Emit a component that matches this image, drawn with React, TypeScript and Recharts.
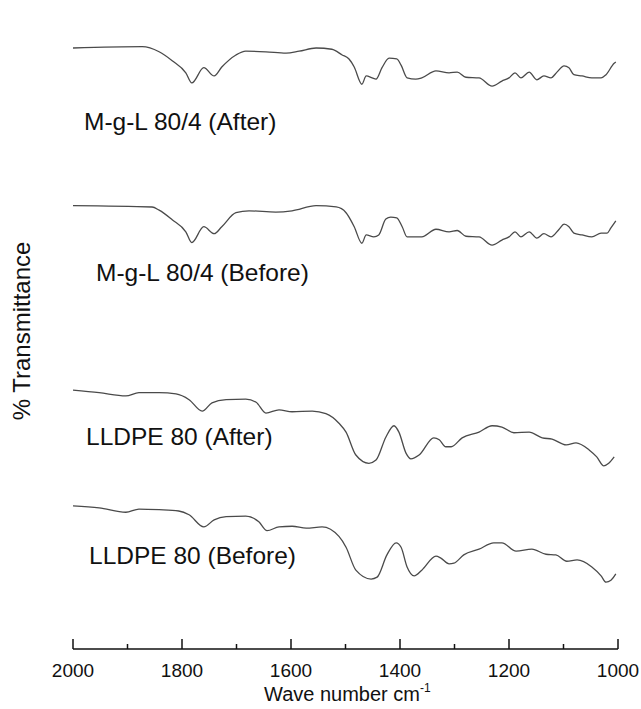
import React from "react";
import { LineChart, Line, XAxis, YAxis } from "recharts";

// FTIR spectra, wavenumber (cm-1) vs. offset % transmittance
const mglAfterWave = [2000, 1873, 1842, 1818, 1793, 1782, 1760, 1741, 1727, 1701, 1683, 1646, 1609, 1585, 1554, 1525, 1506, 1494, 1484, 1470, 1462, 1451, 1444, 1433, 1420, 1406, 1398, 1387, 1371, 1360, 1334, 1310, 1295, 1279, 1255, 1231, 1213, 1200, 1189, 1178, 1163, 1149, 1136, 1123, 1112, 1099, 1090, 1081, 1066, 1048, 1031, 1022, 1007, 1004];
const mglAfterT = [94.5, 94.7, 93.9, 92.5, 90.6, 89.0, 91.4, 90.1, 91.5, 93.4, 94.0, 93.9, 93.7, 94.0, 94.5, 94.3, 93.4, 92.8, 91.5, 88.8, 90.1, 89.8, 89.6, 91.4, 92.9, 92.8, 91.8, 89.8, 89.6, 89.8, 90.9, 90.6, 90.7, 89.9, 89.8, 88.5, 89.3, 89.8, 90.6, 89.8, 90.7, 89.5, 90.1, 89.8, 90.7, 91.7, 91.4, 90.3, 90.1, 89.8, 89.8, 90.3, 92.1, 92.3];

const mglBeforeWave = [2000, 1855, 1842, 1818, 1793, 1782, 1760, 1741, 1727, 1701, 1677, 1628, 1598, 1554, 1517, 1499, 1484, 1470, 1462, 1448, 1439, 1426, 1417, 1406, 1396, 1387, 1371, 1360, 1334, 1310, 1295, 1279, 1255, 1231, 1213, 1200, 1189, 1178, 1163, 1149, 1136, 1123, 1108, 1099, 1090, 1081, 1066, 1048, 1031, 1020, 1013, 1004];
const mglBeforeT = [69.7, 69.5, 69.0, 67.5, 65.6, 63.9, 66.4, 65.3, 66.4, 68.6, 68.9, 68.7, 68.9, 69.7, 69.5, 68.6, 66.4, 63.8, 65.1, 64.8, 65.1, 67.6, 67.9, 67.8, 66.4, 64.8, 64.8, 64.8, 66.0, 65.6, 65.8, 64.9, 64.8, 63.5, 64.3, 64.8, 65.6, 64.8, 65.6, 64.6, 65.3, 64.8, 66.0, 66.8, 66.4, 65.4, 65.1, 64.8, 65.4, 65.4, 66.2, 67.3];

const lldpeAfterWave = [2000, 1952, 1903, 1879, 1842, 1811, 1787, 1763, 1745, 1719, 1683, 1664, 1646, 1622, 1598, 1561, 1536, 1512, 1499, 1481, 1457, 1444, 1426, 1411, 1402, 1389, 1380, 1365, 1338, 1328, 1316, 1306, 1286, 1255, 1231, 1213, 1191, 1163, 1139, 1121, 1095, 1077, 1053, 1039, 1026, 1017, 1007];
const lldpeAfterT = [40.7, 40.3, 39.8, 40.3, 40.3, 40.1, 39.2, 37.4, 38.7, 39.2, 39.3, 38.8, 37.1, 37.6, 37.3, 37.4, 37.0, 35.5, 34.1, 30.5, 29.2, 29.7, 33.3, 35.1, 34.1, 30.8, 29.9, 30.5, 33.2, 32.9, 31.8, 31.8, 33.2, 34.1, 35.1, 34.9, 34.0, 34.1, 33.2, 33.0, 32.1, 32.4, 31.3, 30.2, 28.8, 29.2, 30.2];

const lldpeBeforeWave = [2000, 1952, 1903, 1879, 1842, 1806, 1787, 1760, 1741, 1719, 1683, 1659, 1644, 1622, 1598, 1572, 1543, 1512, 1499, 1481, 1453, 1442, 1424, 1407, 1398, 1387, 1374, 1360, 1334, 1325, 1310, 1301, 1283, 1255, 1228, 1213, 1187, 1158, 1132, 1114, 1094, 1075, 1048, 1031, 1022, 1013, 1004];
const lldpeBeforeT = [22.5, 22.2, 21.5, 22.0, 21.9, 21.7, 21.1, 19.2, 20.3, 20.8, 20.9, 20.0, 18.6, 19.2, 19.3, 19.0, 19.2, 17.7, 16.0, 12.4, 11.0, 11.3, 14.8, 16.7, 16.0, 12.9, 11.5, 12.4, 14.6, 14.3, 13.4, 13.5, 14.8, 15.7, 16.7, 16.7, 15.4, 15.7, 14.9, 14.8, 13.8, 14.0, 12.9, 11.5, 10.5, 10.8, 11.8];

const xTicks = [2000, 1900, 1800, 1700, 1600, 1500, 1400, 1300, 1200, 1100, 1000];

const zip = (w: number[], t: number[]) => w.map((v, i) => ({ w: v, t: t[i] }));

const series = [
  { key: "mglAfter", data: zip(mglAfterWave, mglAfterT) },
  { key: "mglBefore", data: zip(mglBeforeWave, mglBeforeT) },
  { key: "lldpeAfter", data: zip(lldpeAfterWave, lldpeAfterT) },
  { key: "lldpeBefore", data: zip(lldpeBeforeWave, lldpeBeforeT) },
];

const FONT = "'Liberation Sans', Arial, sans-serif";

// ticks point inward; only every 200 cm-1 carries a label
function AxisTick(props: any) {
  const { x, y, payload } = props;
  const major = payload.value % 200 === 0;
  return (
    <g>
      <line x1={x} x2={x} y1={y} y2={y - (major ? 10 : 5)} stroke="#111" strokeWidth={1.5} />
      {major && (
        <text x={x} y={y + 28} textAnchor="middle" fontSize={19} fontFamily={FONT} fill="#111">
          {payload.value}
        </text>
      )}
    </g>
  );
}

export default function App() {
  return (
    <div style={{ position: "absolute", left: 0, top: 0, width: 641, height: 709, background: "#fff" }}>
      <LineChart width={641} height={709} margin={{ top: 13, right: 23, bottom: 0, left: 73 }}>
        <XAxis
          type="number"
          dataKey="w"
          domain={[1000, 2000]}
          reversed
          ticks={xTicks}
          interval={0}
          tickSize={0}
          tickMargin={0}
          tickLine={false}
          tick={<AxisTick />}
          height={60}
          axisLine={{ stroke: "#111", strokeWidth: 1.5 }}
          allowDataOverflow
        />
        <YAxis
          type="number"
          domain={[0, 100]}
          width={0}
          tick={false}
          tickLine={false}
          axisLine={{ stroke: "#666", strokeWidth: 1 }}
        />
        {series.map((s) => (
          <Line
            key={s.key}
            data={s.data}
            dataKey="t"
            type="monotone"
            stroke="#4a4a4a"
            strokeWidth={1.3}
            dot={false}
            isAnimationActive={false}
          />
        ))}
      </LineChart>
      <svg
        width={641}
        height={709}
        style={{ position: "absolute", left: 0, top: 0, pointerEvents: "none" }}
        fontFamily={FONT}
        fill="#111"
      >
        <text x={84} y={130} fontSize={24.5}>M-g-L 80/4 (After)</text>
        <text x={96} y={281} fontSize={24.5}>M-g-L 80/4 (Before)</text>
        <text x={86} y={445} fontSize={24.5}>LLDPE 80 (After)</text>
        <text x={89} y={564} fontSize={24.5}>LLDPE 80 (Before)</text>
        <text
          transform="translate(30, 331) rotate(-90)"
          textAnchor="middle"
          fontSize={24}
        >
          % Transmittance
        </text>
        <text x={264} y={701} fontSize={20}>
          Wave number cm
          <tspan dy={-9} fontSize={12}>-1</tspan>
        </text>
      </svg>
    </div>
  );
}
